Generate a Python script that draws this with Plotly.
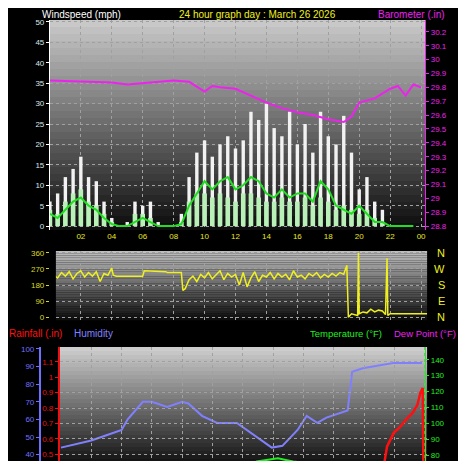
import plotly.graph_objects as go

# ---- data ----
# wind, half-hour steps from 00:00
wind_hours = [i * 0.5 for i in range(48)]
gust = [6, 8, 12, 14, 17, 12, 11, 6, 2, 0, 1, 6, 5, 6, 1, 0, 0, 3, 12, 18, 21, 17, 20, 22,
        19, 21, 28, 26, 30, 24, 22, 28, 20, 25, 18, 28, 22, 20, 27, 18, 9, 12, 6, 4, 0, 0, 0, 0]
speed = [4, 3, 6, 8, 9, 6, 5, 3, 1, 0, 0, 3, 3, 2, 0, 0, 0, 1, 6, 8, 8, 7, 8, 7,
         6, 8, 8, 7, 6, 6, 7, 6, 6, 7, 5, 7, 6, 4, 5, 4, 3, 4, 2, 1, 0, 0, 0, 0]
avg = [3, 2, 4, 6, 7, 5, 4, 2, 0.5, 0, 0, 1, 2, 1, 0, 0, 0, 0.5, 5, 8, 11, 9, 11, 12,
       9, 10, 12, 11, 8, 7, 9, 7, 8, 8, 6, 11, 9, 5, 4, 3, 5, 3, 1, 1, 0, 0, 0, 0]

baro_hours = [0, 2, 4, 5, 6, 8, 9, 10, 10.5, 11, 12, 13, 14, 15, 16, 17, 18, 19, 19.5,
              20, 21, 22, 22.5, 23, 23.5, 24]
baro = [29.85, 29.84, 29.835, 29.82, 29.83, 29.85, 29.84, 29.77, 29.81, 29.80, 29.79, 29.74,
        29.69, 29.65, 29.62, 29.60, 29.57, 29.55, 29.59, 29.69, 29.72, 29.79, 29.81, 29.74,
        29.82, 29.80]

dir_hours = [0, 0.25, 0.5, 0.75, 1, 1.25, 1.5, 1.75, 2, 2.25, 2.5, 2.75, 3, 3.25, 3.5, 3.75,
             4, 4.1, 4.3, 5, 6, 6.1, 7.5, 7.6, 8.5, 8.6, 8.75, 9, 9.25, 9.5, 9.75, 10, 10.25,
             10.5, 10.75, 11, 11.25, 11.5, 11.75, 12, 12.25, 12.5, 12.75, 13, 13.25, 13.5,
             13.75, 14, 14.25, 14.5, 14.75, 15, 15.25, 15.5, 15.75, 16, 16.25, 16.5, 16.75,
             17, 17.25, 17.5, 17.75, 18, 18.25, 18.5, 18.75, 19, 19.2, 19.3, 19.5, 19.9,
             19.95, 20, 20.25, 20.5, 20.75, 21, 21.25, 21.5, 21.7, 21.8, 21.85, 22, 24.4]
direction = [215, 235, 220, 250, 230, 255, 215, 245, 260, 225, 250, 230, 255, 200, 245, 235,
             275, 235, 230, 230, 230, 260, 255, 250, 250, 150, 160, 210, 230, 200, 240, 220,
             250, 215, 235, 260, 210, 245, 225, 240, 180, 250, 170, 220, 255, 200, 235, 225,
             250, 215, 245, 225, 240, 210, 260, 225, 235, 215, 245, 230, 250, 220, 240, 225,
             245, 230, 250, 240, 290, 0, 20, 10, 360, 20, 30, 25, 45, 30, 40, 35, 15, 330,
             10, 20, 20]

hum_hours = [0, 1, 2, 3, 4, 4.4, 5.4, 6.0, 7.0, 8.0, 8.4, 9.3, 10.3, 11.6, 12.6, 13.9, 14.6,
             15.6, 16.2, 16.9, 17.5, 18.9, 19.2, 19.9, 21.9, 23.8]
humidity = [44, 46, 48, 51, 54, 60, 70, 70, 67, 70, 69, 62, 58, 58, 52, 44, 45, 54, 62, 58,
            61, 65, 87, 89, 92, 92]

rain_hours = [21.3, 21.5, 21.95, 22.3, 22.8, 23.2, 23.5, 23.7, 23.85, 23.9]
rain = [0.43, 0.55, 0.64, 0.67, 0.73, 0.77, 0.82, 0.90, 0.93, 0.40]

temp_hours = [12.3, 12.9, 14.3, 15.3, 16.2, 17.0, 17.9, 18.3]
temp = [72.5, 76, 78, 76, 75, 75.5, 75, 72.5]

tick_hours = [2, 4, 6, 8, 10, 12, 14, 16, 18, 20, 22, 24]
tick_text = ['02', '04', '06', '08', '10', '12', '14', '16', '18', '20', '22', '00']
W, H = 466, 461


def px(x):
    return x / W


def py(y):
    return 1 - y / H


fig = go.Figure()

fig.add_trace(go.Bar(x=wind_hours, y=gust, width=0.22, marker_color='#f2f2f2',
                     marker_line_width=0, xaxis='x', yaxis='y'))
fig.add_trace(go.Bar(x=wind_hours, y=speed, width=0.3, marker_color='#b8f0b8',
                     marker_line_width=0, xaxis='x', yaxis='y'))
fig.add_trace(go.Scatter(x=wind_hours, y=avg, mode='lines', line=dict(color='#22dd22', width=2),
                         xaxis='x', yaxis='y'))
fig.add_trace(go.Scatter(x=baro_hours, y=baro, mode='lines', line=dict(color='#ee22ee', width=2),
                         xaxis='x', yaxis='y2'))
fig.add_trace(go.Scatter(x=dir_hours, y=direction, mode='lines',
                         line=dict(color='#f0f020', width=1.5), xaxis='x2', yaxis='y3'))
fig.add_trace(go.Scatter(x=hum_hours, y=humidity, mode='lines',
                         line=dict(color='#8080ff', width=2), xaxis='x3', yaxis='y4'))
fig.add_trace(go.Scatter(x=rain_hours, y=rain, mode='lines', line=dict(color='#ff1010', width=2.5),
                         xaxis='x3', yaxis='y5'))
fig.add_trace(go.Scatter(x=temp_hours, y=temp, mode='lines', line=dict(color='#22ee22', width=2),
                         xaxis='x3', yaxis='y6'))

# panel boxes in pixels: (left, top, right, bottom)
p1 = (42, 10, 418, 222)
p2 = (48, 243, 420, 313)
p3 = (52, 340, 420, 461)

# grey gradient backgrounds
shapes = []
for (l, t, r, b), top_grey in [(p1, 200), (p2, 190), (p3, 205)]:
    n = 30
    for i in range(n):
        g = int(top_grey * (1 - i / n) + 8 * (i / n))
        shapes.append(dict(type='rect', xref='paper', yref='paper', layer='below',
                           x0=px(l), x1=px(r), y0=py(t + (b - t) * (i + 1) / n),
                           y1=py(t + (b - t) * i / n), line_width=0,
                           fillcolor=f'rgb({g},{g},{g})'))

grid = dict(showgrid=True, gridcolor='#a0a0a0', griddash='dot', gridwidth=1, zeroline=False)
tf = dict(family='Liberation Sans', size=8)

fig.update_layout(
    width=W, height=H, margin=dict(l=0, r=0, t=0, b=0),
    paper_bgcolor='black', plot_bgcolor='rgba(0,0,0,0)', showlegend=False, barmode='overlay',
    shapes=shapes,
    xaxis=dict(domain=[px(p1[0]), px(p1[2])], range=[0, 24.26], anchor='y', tickvals=tick_hours,
               ticktext=tick_text, tickfont=dict(tf, color='#e8e820'), **grid, ticks=''),
    yaxis=dict(domain=[py(p1[3]), py(p1[1])], range=[-0.97, 50.49], dtick=5,
               tickfont=dict(tf, color='#d8e8f0'), showline=True, linecolor='white',
               ticks='outside', ticklen=3, tickcolor='white', **grid),
    yaxis2=dict(overlaying='y', side='right', range=[28.771, 30.286], dtick=0.1,
                tickfont=dict(tf, color='#ee22ee'), showline=True, linecolor='#ee22ee',
                ticks='outside', ticklen=3, tickcolor='#ee22ee', showgrid=False, zeroline=False),
    xaxis2=dict(domain=[px(p2[0]), px(p2[2])], range=[0.39, 24.39], anchor='y3',
                tickvals=tick_hours, showticklabels=False, **grid, ticks=''),
    yaxis3=dict(domain=[py(p2[3]), py(p2[1])], range=[-16.6, 371], tickvals=[0, 90, 180, 270, 360],
                tickfont=dict(tf, color='#d8d820'), ticks='outside', ticklen=3,
                tickcolor='#d8d820', **grid),
    xaxis3=dict(domain=[px(p3[0]), px(p3[2])], range=[-0.07, 24.14], anchor='y5',
                tickvals=tick_hours, showticklabels=False, **grid, ticks=''),
    yaxis4=dict(domain=[py(p3[3]), py(p3[1])], range=[33, 101], tickvals=[40, 50, 60, 70, 80, 90, 100],
                anchor='free', position=px(32), tickfont=dict(tf, color='#7070ff'), showline=True,
                linecolor='#7070ff', linewidth=2, ticks='outside', ticklen=3,
                tickcolor='#7070ff', showgrid=False, zeroline=False),
    yaxis5=dict(domain=[py(p3[3]), py(p3[1])], range=[0.416, 1.197],
                tickvals=[0.5, 0.6, 0.7, 0.8, 0.9, 1.0, 1.1], anchor='x3',
                tickfont=dict(tf, color='#ee1010'), showline=True, linecolor='#ee1010',
                linewidth=2, ticks='outside', ticklen=3, tickcolor='#ee1010', **grid),
    yaxis6=dict(overlaying='y5', side='right', range=[72.5, 148],
                tickvals=[80, 90, 100, 110, 120, 130, 140],
                tickfont=dict(tf, color='#22ee22'), showline=True, linecolor='#22ee22',
                ticks='outside', ticklen=3, tickcolor='#22ee22', showgrid=False,
                zeroline=False),
)

lab = dict(family='Liberation Sans', size=10)
texts = [
    (33, 5, 'Windspeed (mph)', 'white', 'left', 10),
    (170, 5, '24 hour graph day : March 26 2026', '#f0f020', 'left', 10),
    (370, 5, 'Barometer (.in)', '#ee22ee', 'left', 10),
    (0, 326, 'Rainfall (.in)', '#ff1010', 'left', 10),
    (65, 326, 'Humidity', '#8080ff', 'left', 10),
    (302, 326, 'Temperature (°F)', '#22ee22', 'left', 9.5),
    (386, 326, 'Dew Point (°F)', '#ee22ee', 'left', 9.5),
]
for x, y, t, c, a, s in texts:
    fig.add_annotation(x=px(x), y=py(y), xref='paper', yref='paper', text=t, showarrow=False,
                       xanchor=a, yanchor='middle', borderpad=0,
                       font=dict(lab, size=s, color=c))

for deg, letter in zip([360, 270, 180, 90, 0], ['N', 'W', 'S', 'E', 'N']):
    fig.add_annotation(x=px(440), y=deg, xref='paper', yref='y3', text=letter, showarrow=False,
                       font=dict(family='Liberation Sans', size=11, color='#f0f020'))

fig.write_html("out.html")
